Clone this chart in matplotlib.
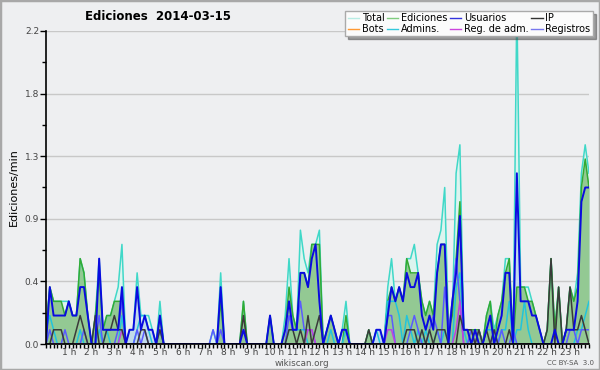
import matplotlib
matplotlib.use("Agg")
import matplotlib.pyplot as plt
from matplotlib.lines import Line2D
from matplotlib.patches import Rectangle
import numpy as np

# edits per minute, one value per 10 minutes (6 per hour, 24 hours)
total = [0.1, 0.4, 0.3, 0.3, 0.3, 0.3,  0.3, 0.2, 0.2, 0.6, 0.5, 0.2,
         0.0, 0.2, 0.6, 0.1, 0.2, 0.2,  0.3, 0.4, 0.7, 0.0, 0.1, 0.1,
         0.5, 0.2, 0.2, 0.2, 0.1, 0.0,  0.3, 0.0, 0.0, 0.0, 0.0, 0.0,
         0.0, 0.0, 0.0, 0.0, 0.0, 0.0,  0.0, 0.0, 0.1, 0.0, 0.5, 0.0,
         0.0, 0.0, 0.0, 0.0, 0.3, 0.0,  0.0, 0.0, 0.0, 0.0, 0.0, 0.2,
         0.0, 0.0, 0.0, 0.2, 0.6, 0.2,  0.1, 0.8, 0.6, 0.5, 0.7, 0.7,
         0.8, 0.0, 0.1, 0.2, 0.1, 0.0,  0.1, 0.3, 0.0, 0.0, 0.0, 0.0,
         0.0, 0.1, 0.0, 0.1, 0.1, 0.0,  0.4, 0.6, 0.3, 0.4, 0.3, 0.6,
         0.6, 0.7, 0.5, 0.3, 0.2, 0.3,  0.2, 0.7, 0.8, 1.1, 0.1, 0.2,
         1.2, 1.4, 0.1, 0.1, 0.1, 0.1,  0.1, 0.0, 0.2, 0.3, 0.1, 0.2,
         0.3, 0.6, 0.6, 0.0, 2.4, 0.4,  0.4, 0.4, 0.3, 0.2, 0.1, 0.0,
         0.1, 0.6, 0.1, 0.4, 0.0, 0.1,  0.4, 0.3, 0.5, 1.2, 1.4, 1.2]

ediciones = [0.1, 0.4, 0.3, 0.3, 0.3, 0.2,  0.3, 0.2, 0.2, 0.6, 0.5, 0.2,
             0.0, 0.2, 0.5, 0.1, 0.2, 0.2,  0.3, 0.3, 0.3, 0.0, 0.0, 0.0,
             0.0, 0.0, 0.0, 0.0, 0.0, 0.0,  0.2, 0.0, 0.0, 0.0, 0.0, 0.0,
             0.0, 0.0, 0.0, 0.0, 0.0, 0.0,  0.0, 0.0, 0.0, 0.0, 0.3, 0.0,
             0.0, 0.0, 0.0, 0.0, 0.3, 0.0,  0.0, 0.0, 0.0, 0.0, 0.0, 0.2,
             0.0, 0.0, 0.0, 0.1, 0.4, 0.2,  0.1, 0.5, 0.5, 0.4, 0.7, 0.7,
             0.7, 0.0, 0.1, 0.2, 0.1, 0.0,  0.0, 0.2, 0.0, 0.0, 0.0, 0.0,
             0.0, 0.1, 0.0, 0.0, 0.0, 0.0,  0.3, 0.4, 0.3, 0.4, 0.3, 0.6,
             0.5, 0.5, 0.5, 0.3, 0.2, 0.3,  0.2, 0.5, 0.7, 0.7, 0.1, 0.2,
             0.6, 1.0, 0.1, 0.1, 0.1, 0.1,  0.1, 0.0, 0.2, 0.3, 0.0, 0.2,
             0.3, 0.5, 0.6, 0.0, 0.4, 0.4,  0.4, 0.3, 0.3, 0.2, 0.1, 0.0,
             0.1, 0.6, 0.1, 0.4, 0.0, 0.1,  0.4, 0.3, 0.4, 1.1, 1.3, 1.1]

usuarios = [0.0, 0.4, 0.2, 0.2, 0.2, 0.2,  0.3, 0.2, 0.2, 0.4, 0.4, 0.2,
            0.0, 0.0, 0.6, 0.1, 0.1, 0.1,  0.1, 0.1, 0.4, 0.0, 0.1, 0.1,
            0.4, 0.1, 0.2, 0.1, 0.1, 0.0,  0.2, 0.0, 0.0, 0.0, 0.0, 0.0,
            0.0, 0.0, 0.0, 0.0, 0.0, 0.0,  0.0, 0.0, 0.0, 0.0, 0.4, 0.0,
            0.0, 0.0, 0.0, 0.0, 0.1, 0.0,  0.0, 0.0, 0.0, 0.0, 0.0, 0.2,
            0.0, 0.0, 0.0, 0.1, 0.3, 0.1,  0.1, 0.5, 0.5, 0.4, 0.6, 0.7,
            0.3, 0.0, 0.1, 0.2, 0.1, 0.0,  0.1, 0.1, 0.0, 0.0, 0.0, 0.0,
            0.0, 0.0, 0.0, 0.1, 0.1, 0.0,  0.2, 0.4, 0.3, 0.4, 0.3, 0.5,
            0.4, 0.4, 0.5, 0.2, 0.1, 0.2,  0.1, 0.5, 0.7, 0.7, 0.0, 0.3,
            0.5, 0.9, 0.1, 0.1, 0.0, 0.1,  0.0, 0.0, 0.1, 0.2, 0.0, 0.1,
            0.2, 0.5, 0.5, 0.0, 1.2, 0.3,  0.3, 0.3, 0.2, 0.2, 0.1, 0.0,
            0.0, 0.0, 0.1, 0.0, 0.0, 0.1,  0.1, 0.1, 0.3, 1.0, 1.1, 1.1]

ip = [0.0, 0.0, 0.1, 0.1, 0.1, 0.0,  0.0, 0.0, 0.1, 0.2, 0.1, 0.0,
      0.0, 0.2, 0.0, 0.0, 0.1, 0.1,  0.2, 0.1, 0.1, 0.0, 0.0, 0.0,
      0.0, 0.1, 0.1, 0.0, 0.0, 0.0,  0.1, 0.0, 0.0, 0.0, 0.0, 0.0,
      0.0, 0.0, 0.0, 0.0, 0.0, 0.0,  0.0, 0.0, 0.0, 0.0, 0.0, 0.0,
      0.0, 0.0, 0.0, 0.0, 0.2, 0.0,  0.0, 0.0, 0.0, 0.0, 0.0, 0.0,
      0.0, 0.0, 0.0, 0.0, 0.1, 0.1,  0.0, 0.1, 0.0, 0.2, 0.0, 0.1,
      0.2, 0.0, 0.0, 0.0, 0.0, 0.0,  0.0, 0.0, 0.0, 0.0, 0.0, 0.0,
      0.0, 0.1, 0.0, 0.0, 0.0, 0.0,  0.0, 0.0, 0.0, 0.0, 0.0, 0.1,
      0.1, 0.1, 0.0, 0.1, 0.0, 0.1,  0.0, 0.1, 0.1, 0.1, 0.0, 0.0,
      0.0, 0.2, 0.1, 0.1, 0.1, 0.0,  0.1, 0.0, 0.1, 0.0, 0.1, 0.0,
      0.0, 0.0, 0.1, 0.0, 0.0, 0.0,  0.0, 0.0, 0.0, 0.0, 0.0, 0.0,
      0.1, 0.6, 0.0, 0.4, 0.0, 0.1,  0.4, 0.1, 0.1, 0.2, 0.1, 0.0]

bots = [0.0] * 144

admins = [0.1, 0.2, 0.1, 0.0, 0.0, 0.0,  0.0, 0.0, 0.0, 0.1, 0.0, 0.0,
          0.0, 0.0, 0.1, 0.0, 0.1, 0.0,  0.0, 0.0, 0.2, 0.0, 0.0, 0.0,
          0.1, 0.2, 0.2, 0.1, 0.0, 0.0,  0.1, 0.0, 0.0, 0.0, 0.0, 0.0,
          0.0, 0.0, 0.0, 0.0, 0.0, 0.0,  0.0, 0.0, 0.0, 0.0, 0.0, 0.0,
          0.0, 0.0, 0.0, 0.0, 0.0, 0.0,  0.0, 0.0, 0.0, 0.0, 0.0, 0.0,
          0.0, 0.0, 0.0, 0.0, 0.1, 0.1,  0.1, 0.1, 0.1, 0.0, 0.0, 0.0,
          0.0, 0.0, 0.0, 0.1, 0.0, 0.0,  0.0, 0.1, 0.0, 0.0, 0.0, 0.0,
          0.0, 0.0, 0.0, 0.1, 0.0, 0.0,  0.3, 0.3, 0.3, 0.2, 0.0, 0.2,
          0.1, 0.0, 0.1, 0.0, 0.1, 0.0,  0.0, 0.1, 0.0, 0.1, 0.0, 0.0,
          0.4, 0.5, 0.1, 0.0, 0.0, 0.0,  0.0, 0.0, 0.1, 0.1, 0.1, 0.0,
          0.1, 0.1, 0.3, 0.0, 0.1, 0.1,  0.3, 0.1, 0.0, 0.0, 0.0, 0.0,
          0.0, 0.0, 0.0, 0.0, 0.0, 0.0,  0.0, 0.0, 0.1, 0.1, 0.2, 0.3]

reg_adm = [0.0, 0.0, 0.0, 0.0, 0.0, 0.0,  0.0, 0.0, 0.0, 0.0, 0.0, 0.0,
           0.0, 0.0, 0.0, 0.0, 0.0, 0.0,  0.0, 0.0, 0.1, 0.0, 0.0, 0.0,
           0.0, 0.0, 0.0, 0.0, 0.0, 0.0,  0.0, 0.0, 0.0, 0.0, 0.0, 0.0,
           0.0, 0.0, 0.0, 0.0, 0.0, 0.0,  0.0, 0.0, 0.0, 0.0, 0.0, 0.0,
           0.0, 0.0, 0.0, 0.0, 0.0, 0.0,  0.0, 0.0, 0.0, 0.0, 0.0, 0.0,
           0.0, 0.0, 0.0, 0.0, 0.0, 0.0,  0.0, 0.0, 0.0, 0.1, 0.1, 0.0,
           0.0, 0.0, 0.0, 0.0, 0.0, 0.0,  0.0, 0.0, 0.0, 0.0, 0.0, 0.0,
           0.0, 0.0, 0.0, 0.0, 0.0, 0.0,  0.1, 0.1, 0.0, 0.0, 0.0, 0.0,
           0.0, 0.0, 0.0, 0.0, 0.0, 0.0,  0.0, 0.0, 0.0, 0.0, 0.0, 0.0,
           0.1, 0.3, 0.0, 0.0, 0.0, 0.0,  0.0, 0.0, 0.0, 0.0, 0.0, 0.0,
           0.0, 0.0, 0.0, 0.0, 0.0, 0.0,  0.0, 0.0, 0.0, 0.0, 0.0, 0.0,
           0.0, 0.0, 0.0, 0.0, 0.0, 0.0,  0.0, 0.0, 0.0, 0.0, 0.0, 0.0]

registros = [0.0, 0.1, 0.0, 0.0, 0.0, 0.1,  0.0, 0.0, 0.0, 0.0, 0.1, 0.0,
             0.0, 0.0, 0.2, 0.0, 0.0, 0.0,  0.0, 0.1, 0.3, 0.0, 0.0, 0.0,
             0.1, 0.0, 0.1, 0.0, 0.0, 0.0,  0.1, 0.0, 0.0, 0.0, 0.0, 0.0,
             0.0, 0.0, 0.0, 0.0, 0.0, 0.0,  0.0, 0.0, 0.1, 0.0, 0.1, 0.0,
             0.0, 0.0, 0.0, 0.0, 0.0, 0.0,  0.0, 0.0, 0.0, 0.0, 0.0, 0.0,
             0.0, 0.0, 0.0, 0.0, 0.2, 0.1,  0.1, 0.3, 0.1, 0.1, 0.1, 0.0,
             0.0, 0.0, 0.0, 0.0, 0.0, 0.0,  0.1, 0.1, 0.0, 0.0, 0.0, 0.0,
             0.0, 0.0, 0.0, 0.0, 0.0, 0.0,  0.2, 0.2, 0.0, 0.0, 0.0, 0.0,
             0.1, 0.2, 0.1, 0.0, 0.0, 0.1,  0.2, 0.1, 0.0, 0.4, 0.1, 0.3,
             0.6, 0.3, 0.0, 0.0, 0.1, 0.0,  0.1, 0.0, 0.0, 0.0, 0.1, 0.0,
             0.1, 0.0, 0.0, 0.1, 0.0, 0.0,  0.0, 0.0, 0.0, 0.0, 0.0, 0.0,
             0.0, 0.0, 0.0, 0.0, 0.0, 0.0,  0.1, 0.1, 0.0, 0.1, 0.1, 0.1]

hour_labels = ["%d h" % h for h in range(1, 24)]
y_ticks = [0, 0.44, 0.88, 1.32, 1.76, 2.2]
y_labels = ["0.0", "0.4", "0.9", "1.3", "1.8", "2.2"]

bg = "#eeeff1"
fig = plt.figure(figsize=(6, 3.7), dpi=100, facecolor=bg)
ax = fig.add_axes([46 / 600, 26 / 370, 543 / 600, 313 / 370], facecolor=bg)

x = np.arange(len(total))

ax.fill_between(x, total, color="#dcf4ef", lw=0, zorder=1)
ax.fill_between(x, usuarios, color="#c2dbe9", lw=0, zorder=1.1)
ax.fill_between(x, ediciones, color="#93c993", lw=0, zorder=1.2)

ax.plot(x, bots, color="#ff9933", lw=1, zorder=1.3)
ax.plot(x, total, color="#40d8c8", lw=1.1, zorder=2)
ax.plot(x, ediciones, color="#33aa33", lw=1.1, zorder=2.1)
ax.plot(x, admins, color="#22c4dc", lw=1.1, zorder=2.2)
ax.plot(x, registros, color="#5a5aff", lw=1.1, zorder=2.3)
ax.plot(x, reg_adm, color="#c040e0", lw=1.1, zorder=2.4)
ax.plot(x, ip, color="#3a3a3a", lw=1.1, zorder=2.5)
ax.plot(x, usuarios, color="#0a0ae0", lw=1.4, zorder=2.6)

ax.set_xlim(0, len(total) - 1)
ax.set_ylim(0, 2.2)

ax.set_yticks(y_ticks)
ax.set_yticklabels(y_labels)
ax.set_yticks([0.22, 0.66, 1.1, 1.54, 1.98], minor=True)
ax.yaxis.grid(True, color="#c8c8c8", lw=1)
ax.set_axisbelow(True)

ax.set_xticks(np.arange(6, 144, 6))
ax.set_xticklabels(hour_labels)
ax.set_xticks(np.arange(0, 144, 1), minor=True)

ax.tick_params(axis="y", which="major", length=4, width=1, labelsize=6.5,
               labelcolor="#444444", pad=1)
ax.tick_params(axis="y", which="minor", length=3, width=1)
ax.tick_params(axis="x", which="both", length=3, width=1, labelsize=6.5,
               labelcolor="#444444", pad=0)

for s in ["top", "right"]:
    ax.spines[s].set_visible(False)
for s in ["left", "bottom"]:
    ax.spines[s].set_linewidth(1.2)
    ax.spines[s].set_zorder(3)

ax.set_ylabel("Ediciones/min", fontsize=8, labelpad=4)

fig.text(85 / 600, 1 - 16 / 370, "Ediciones  2014-03-15", fontsize=8.5,
         fontweight="bold", va="center", ha="left")
fig.text(302 / 600, 1 - 363 / 370, "wikiscan.org", fontsize=6.3,
         color="#555555", ha="center", va="center")
fig.text(594 / 600, 1 - 363 / 370, "CC BY-SA  3.0", fontsize=5,
         color="#555555", ha="right", va="center")

handles = [
    Line2D([], [], color="#b8ece4", lw=1, label="Total"),
    Line2D([], [], color="#ff9933", lw=1, label="Bots"),
    Line2D([], [], color="#7fcc7f", lw=1, label="Ediciones"),
    Line2D([], [], color="#33c8dc", lw=1, label="Admins."),
    Line2D([], [], color="#3333dd", lw=1, label="Usuarios"),
    Line2D([], [], color="#cc44dd", lw=1, label="Reg. de adm."),
    Line2D([], [], color="#333333", lw=1, label="IP"),
    Line2D([], [], color="#7777ee", lw=1, label="Registros"),
]
leg = fig.legend(handles=handles, ncol=4, loc="upper right",
                 bbox_to_anchor=(593 / 600, 1 - 11 / 370), fontsize=7,
                 frameon=True, fancybox=False, shadow=True,
                 handlelength=1.2, handletextpad=0.3, columnspacing=0.2,
                 labelspacing=0.05, borderpad=0.25, borderaxespad=0)
leg.get_frame().set_facecolor("#fbfbfb")
leg.get_frame().set_edgecolor("#aaaaaa")
leg.get_frame().set_linewidth(1)

fig.patches.append(Rectangle((0, 0), 1, 1, transform=fig.transFigure,
                             fill=False, edgecolor="#a8a8a8", lw=2.5))

fig.savefig("out.png", dpi=100, facecolor=bg)
